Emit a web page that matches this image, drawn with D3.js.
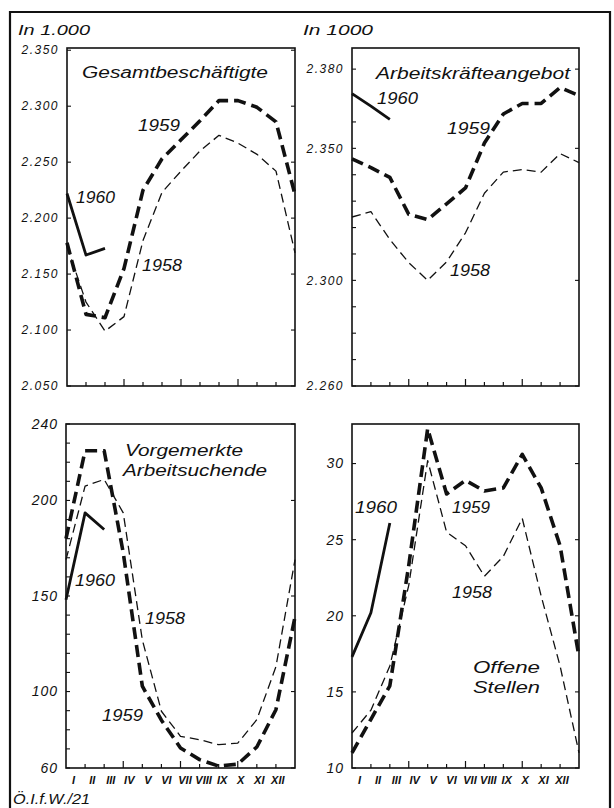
<!DOCTYPE html>
<html lang="de">
<meta charset="utf-8">
<style>
body { margin: 0; background: #fff; }
text { font-family: "Liberation Sans", sans-serif; font-style: italic; fill: #111; }
</style>
<body>
<script src="https://cdn.jsdelivr.net/npm/d3@7"></script>
<script>
// month labels and data (13 points per year: month boundaries)
var months = ["I","II","III","IV","V","VI","VII","VIII","IX","X","XI","XII"];

var gesamt1958 = [2175, 2125, 2099, 2112, 2180, 2223, 2242, 2260, 2274, 2267, 2257, 2242, 2169];
var gesamt1959 = [2178, 2114, 2111, 2155, 2225, 2253, 2270, 2287, 2305, 2305, 2299, 2286, 2221];
var gesamt1960 = [2222, 2167, 2173];

var angebot1958 = [2324, 2326, 2315.5, 2306.7, 2300, 2307, 2318, 2333, 2341, 2342, 2341, 2348, 2344.6];
var angebot1959 = [2346, 2342.7, 2339, 2325, 2323, 2329, 2335, 2352, 2363, 2367, 2367, 2373, 2370];
var angebot1960 = [2370.7, 2366, 2361];

var suchende1958 = [169, 207.5, 211, 193.5, 127, 89.7, 76.6, 74.8, 72.2, 73, 85.3, 113, 169];
var suchende1959 = [180, 226, 226, 172.6, 102.8, 85, 70.5, 64.4, 61, 62, 71, 90.5, 139];
var suchende1960 = [148, 193.5, 184.8];

var stellen1958 = [12.3, 13.8, 16.7, 22, 30.2, 25.5, 24.6, 22.6, 23.9, 26.4, 21.3, 16.7, 11];
var stellen1959 = [11, 13.2, 15.4, 23.3, 32.3, 28, 28.9, 28.2, 28.4, 30.6, 28.4, 24.6, 17.3];
var stellen1960 = [17.3, 20.2, 26.1];

var svg = d3.select("body").append("svg")
    .attr("width", 614)
    .attr("height", 808);

// outer border
svg.append("path")
    .attr("d", "M10,808 V12 H610 V808")
    .attr("fill", "none")
    .attr("stroke", "#111")
    .attr("stroke-width", 2.2);

var styles = {
  y1958: {w: 1.3, dash: "9,5"},
  y1959: {w: 3.6, dash: "12,6"},
  y1960: {w: 2.8, dash: null}
};

var panels = [
  {x0: 67, x1: 295, y0: 48, y1: 386, domain: [2050, 2352],
   ticks: d3.range(2050, 2351, 50), labels: [2050, 2100, 2150, 2200, 2250, 2300, 2350],
   fmt: function(v) { return d3.format(".3f")(v / 1000); }, fs: 12, ls: 1.5,
   series: [["y1958", gesamt1958], ["y1959", gesamt1959], ["y1960", gesamt1960]],
   months: false,
   texts: [["Gesamtbeschäftigte", 82, 78, 186, 16], ["1960", 76, 203, 39, 17],
           ["1959", 138, 131, 42, 17], ["1958", 142, 271, 40, 17]]},
  {x0: 352, x1: 579, y0: 48, y1: 386, domain: [2260, 2388],
   ticks: d3.range(2260, 2381, 10), labels: [2260, 2300, 2350, 2380],
   fmt: function(v) { return d3.format(".3f")(v / 1000); }, fs: 12, ls: 1.5,
   series: [["y1958", angebot1958], ["y1959", angebot1959], ["y1960", angebot1960]],
   months: false,
   texts: [["Arbeitskräfteangebot", 376, 79, 194, 16], ["1960", 377, 104, 41, 17],
           ["1959", 447, 134, 43, 17], ["1958", 450, 276, 40, 17]]},
  {x0: 66, x1: 295, y0: 424, y1: 768, domain: [60, 240],
   ticks: d3.range(60, 241, 10), labels: [60, 100, 150, 200, 240],
   fmt: d3.format("d"), fs: 14, ls: 1,
   series: [["y1958", suchende1958], ["y1959", suchende1959], ["y1960", suchende1960]],
   months: true,
   texts: [["Vorgemerkte", 125, 456, 118, 16], ["Arbeitsuchende", 123, 476, 144, 16],
           ["1960", 75, 586, 40, 17], ["1958", 145, 624, 40, 17], ["1959", 102, 721, 41, 17]]},
  {x0: 352, x1: 579, y0: 424, y1: 768, domain: [10, 32.6],
   ticks: d3.range(10, 31, 5), labels: [10, 15, 20, 25, 30],
   fmt: d3.format("d"), fs: 14, ls: 1,
   series: [["y1958", stellen1958], ["y1959", stellen1959], ["y1960", stellen1960]],
   months: true,
   texts: [["1960", 355, 513, 42, 17], ["1959", 452, 513, 38, 17], ["1958", 452, 598, 40, 17],
           ["Offene", 473, 673, 67, 16], ["Stellen", 473, 693, 67, 16]]}
];

panels.forEach(function(p) {
  var x = d3.scaleLinear().domain([0, 12]).range([p.x0, p.x1]);
  var y = d3.scaleLinear().domain(p.domain).range([p.y1, p.y0]);
  var g = svg.append("g");

  // frame
  g.append("rect")
      .attr("x", p.x0).attr("y", p.y0)
      .attr("width", p.x1 - p.x0).attr("height", p.y1 - p.y0)
      .attr("fill", "none").attr("stroke", "#111").attr("stroke-width", 1.6);

  // x ticks (inward from bottom)
  g.selectAll(".xt").data(d3.range(1, 12)).enter().append("line")
      .attr("x1", function(d) { return x(d); }).attr("x2", function(d) { return x(d); })
      .attr("y1", p.y1).attr("y2", function(d) { return p.y1 - (d % 3 == 0 ? 7 : 4); })
      .attr("stroke", "#111").attr("stroke-width", 1.2);

  // y ticks on both sides
  g.selectAll(".yl").data(p.ticks).enter().append("line")
      .attr("x1", p.x0).attr("x2", p.x0 + 4)
      .attr("y1", function(d) { return y(d); }).attr("y2", function(d) { return y(d); })
      .attr("stroke", "#111").attr("stroke-width", 1.1);
  g.selectAll(".yr").data(p.labels).enter().append("line")
      .attr("x1", p.x1).attr("x2", p.x1 - 4)
      .attr("y1", function(d) { return y(d); }).attr("y2", function(d) { return y(d); })
      .attr("stroke", "#111").attr("stroke-width", 1.1);

  g.selectAll(".lab").data(p.labels).enter().append("text")
      .attr("x", p.x0 - 8)
      .attr("y", function(d) { return y(d) + p.fs * 0.35; })
      .attr("text-anchor", "end")
      .style("font-size", p.fs + "px")
      .style("letter-spacing", p.ls + "px")
      .text(p.fmt);

  if (p.months) {
    var mx = d3.scalePoint().domain(months).range([x(0.4), x(11.1)]);
    g.selectAll(".mon").data(months).enter().append("text")
        .attr("x", function(d) { return mx(d); })
        .attr("y", 784)
        .attr("text-anchor", "middle")
        .style("font-size", "11px")
        .style("font-weight", "bold")
        .text(function(d) { return d; });
  }

  var line = d3.line()
      .x(function(d, i) { return x(i); })
      .y(function(d) { return y(d); });

  p.series.forEach(function(s) {
    var st = styles[s[0]];
    g.append("path")
        .attr("d", line(s[1]))
        .attr("fill", "none")
        .attr("stroke", "#111")
        .attr("stroke-width", st.w)
        .attr("stroke-dasharray", st.dash)
        .attr("stroke-linejoin", "round");
  });

  p.texts.forEach(function(t) {
    g.append("text")
        .attr("x", t[1]).attr("y", t[2])
        .attr("textLength", t[3])
        .attr("lengthAdjust", "spacingAndGlyphs")
        .style("font-size", t[4] + "px")
        .text(t[0]);
  });
});

svg.append("text").attr("x", 18).attr("y", 35)
    .attr("textLength", 72).attr("lengthAdjust", "spacingAndGlyphs")
    .style("font-size", "15px").text("In 1.000");
svg.append("text").attr("x", 303).attr("y", 35)
    .attr("textLength", 70).attr("lengthAdjust", "spacingAndGlyphs")
    .style("font-size", "15px").text("In 1000");
svg.append("text").attr("x", 13).attr("y", 804)
    .attr("textLength", 77).attr("lengthAdjust", "spacingAndGlyphs")
    .style("font-size", "15px").text("Ö.I.f.W./21");
</script>
</body>
</html>
